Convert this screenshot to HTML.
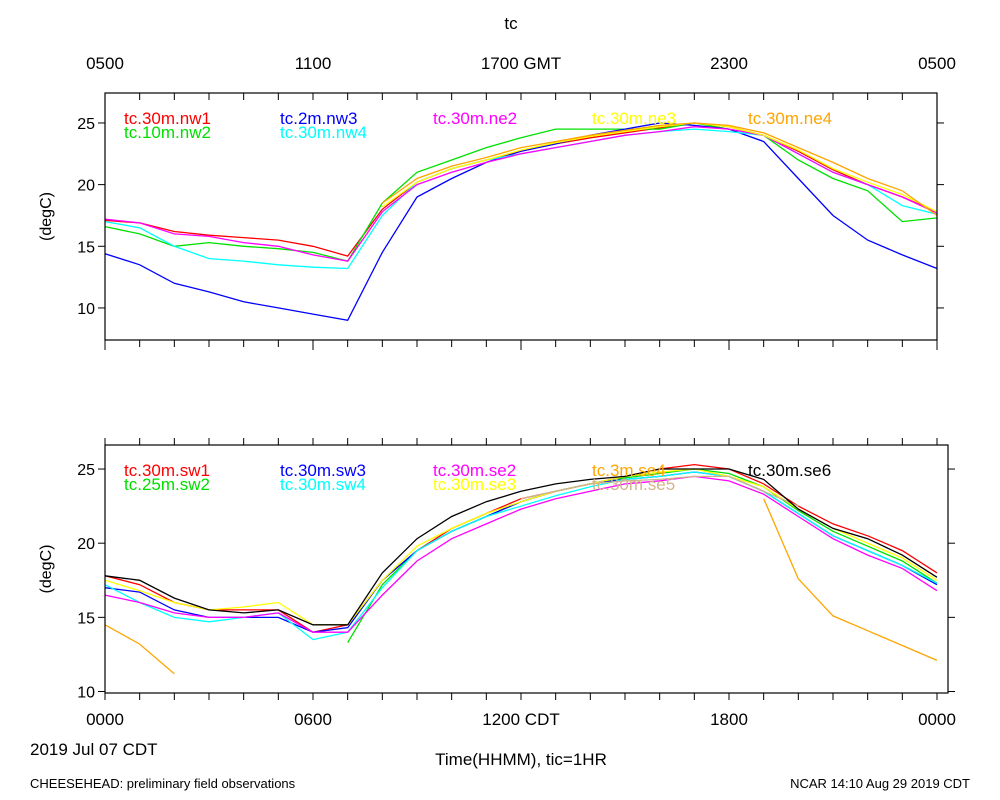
<!DOCTYPE html>
<html><head><meta charset="utf-8"><style>
body{margin:0;background:#fff;}
svg{display:block;font-family:"Liberation Sans",sans-serif;}
</style></head><body>
<svg id="chart" width="1000" height="800"></svg>
<script>
const hours=[0,1,2,3,4,5,6,7,8,9,10,11,12,13,14,15,16,17,18,19,20,21,22,23,24];
const nw1=[17.1,16.9,16.2,15.9,15.7,15.5,15,14.2,18,20.2,21.3,22,22.7,23.3,23.8,24.2,24.6,25,24.7,24,22.7,21.2,20,19,17.8];
const nw2=[16.6,16,15,15.3,15,14.8,14.5,13.8,18.5,21,22,23,23.8,24.5,24.5,24.5,24.5,25,24.5,24,22,20.5,19.5,17,17.3];
const nw3=[14.4,13.5,12,11.3,10.5,10,9.5,9,14.5,19,20.5,21.8,22.7,23.3,24,24.5,25,24.8,24.5,23.5,20.5,17.5,15.5,14.3,13.2];
const nw4=[17,16.5,15,14,13.8,13.5,13.3,13.2,17.5,20.2,21.3,22,22.5,23,23.5,24,24.3,24.5,24.3,24,22.5,21,20,18.3,17.6];
const ne2=[17.2,16.9,16,15.8,15.3,15,14.3,13.8,17.8,20,21,21.8,22.5,23,23.5,24,24.3,24.7,24.5,24,22.5,21,20,19,17.7];
const ne3=[null,null,null,null,null,null,null,null,18.2,20.2,21.3,22,22.8,23.4,23.9,24.3,24.7,25,24.7,24,22.8,21.3,20.2,19.2,17.8];
const ne4=[null,null,null,null,null,null,null,null,18.5,20.5,21.5,22.2,23,23.5,24,24.4,24.8,25,24.8,24.2,23,21.8,20.5,19.5,17.5];
const sw1=[17.8,17.2,16,15.5,15.5,15.5,14,14.5,17.5,19.5,21,22,23,23.5,24,24.5,25,25.3,25,24,22.5,21.3,20.5,19.5,18];
const sw2=[null,null,null,null,null,null,null,13.3,17.2,19.5,20.8,21.8,22.8,23.5,24,24.4,24.7,25,24.7,23.8,22.2,20.8,19.8,18.8,17.3];
const sw3=[17,16.7,15.5,15,15,15,14,14.3,17.5,19.5,20.8,21.8,22.8,23.5,24,24.3,24.5,24.8,24.5,23.5,22,20.5,19.5,18.5,17.2];
const sw4=[17.2,16,15,14.7,15,15.3,13.5,14,17,19.5,20.8,21.8,22.5,23.2,23.8,24.3,24.5,24.8,24.5,23.5,22,20.5,19.5,18.5,17.3];
const se2=[16.5,16,15.3,15,15,15.3,14,14,16.5,18.8,20.3,21.3,22.3,23,23.5,24,24.2,24.5,24.2,23.3,21.8,20.3,19.2,18.3,16.8];
const se3=[17.5,16.8,16,15.5,15.7,16,14.5,14.5,17.5,19.8,21,22,22.8,23.5,24,24.5,24.8,25,24.5,23.8,22.3,21,20,19,17.5];
const se4=[14.5,13.2,11.2,null,null,null,null,null,null,null,null,null,null,null,null,null,null,null,null,23,17.6,15.1,14.1,13.1,12.1];
const se5=[null,null,null,null,null,null,null,null,null,null,null,null,23,23.5,24,24.2,24.3,24.5,24.5,23.5,22.5,null,null,null,null];
const se6=[17.8,17.5,16.3,15.5,15.3,15.5,14.5,14.5,18,20.3,21.8,22.8,23.5,24,24.3,24.5,25,25,25,24.3,22.3,21,20.3,19.2,17.7];
const yTicks=[10,15,20,25];
const topLabels=["0500","1100","1700 GMT","2300","0500"];
const botLabels=["0000","0600","1200 CDT","1800","0000"];

const svg=document.getElementById('chart');
const NS='http://www.w3.org/2000/svg';
function mk(tag,attrs,parent){const e=document.createElementNS(NS,tag);for(const k in attrs)e.setAttribute(k,attrs[k]);(parent||svg).appendChild(e);return e;}
function txt(x,y,s,size,anchor,fill,parent){const t=mk('text',{x:x,y:y,'font-size':size,'text-anchor':anchor||'start',fill:fill||'#000'},parent);t.textContent=s;return t;}

const panels=[
 {x0:105,x1:937,fx1:937,y0:93,y1:340,vmin:7.4,vmax:27.43,name:'top-panel',
  series:[['tc.30m.nw1','red',nw1],['tc.10m.nw2','#00e000',nw2],['tc.2m.nw3','blue',nw3],['tc.30m.nw4','cyan',nw4],['tc.30m.ne2','magenta',ne2],['tc.30m.ne3','yellow',ne3],['tc.30m.ne4','orange',ne4]],
  legend:[[124,0],[124,1],[280,0],[280,1],[433,0],[592,0],[748,0]]},
 {x0:105,x1:937,fx1:948,y0:445,y1:693,vmin:9.9,vmax:26.62,name:'bottom-panel',
  series:[['tc.30m.sw1','red',sw1],['tc.25m.sw2','#00e000',sw2],['tc.30m.sw3','blue',sw3],['tc.30m.sw4','cyan',sw4],['tc.30m.se2','magenta',se2],['tc.30m.se3','yellow',se3],['tc.3m.se4','orange',se4],['tc.30m.se5','tan',se5],['tc.30m.se6','black',se6]],
  legend:[[124,0],[124,1],[280,0],[280,1],[433,0],[433,1],[592,0],[592,1],[748,0]]}
];
panels.forEach((p,pi)=>{
 const g=mk('g',{});
 
 
 const xs=h=>p.x0+(p.x1-p.x0)*h/24;
 const ys=v=>p.y1-(p.y1-p.y0)*(v-p.vmin)/(p.vmax-p.vmin);
 // series
 p.series.forEach((s,si)=>{
  let d='',pen=false;
  s[2].forEach((v,i)=>{if(v==null){pen=false;return;}d+=(pen?'L':'M')+xs(hours[i]).toFixed(1)+','+ys(v).toFixed(1);pen=true;});
  const path=mk('path',{d:d,fill:'none',stroke:s[1],'stroke-width':1.3},g);
  
  
 });
 // frame
 const fr=mk('rect',{x:p.x0,y:p.y0,width:p.fx1-p.x0,height:p.y1-p.y0,fill:'none',stroke:'#000','stroke-width':1.2},g);
 
 
 // x ticks
 for(let h=0;h<=24;h++){
  const x=xs(h),maj=h%6==0;
  mk('line',{x1:x,x2:x,y1:p.y0,y2:p.y0-(pi==1?7:0)+(pi==0?7:0),stroke:'#000'},g);
  mk('line',{x1:x,x2:x,y1:p.y1,y2:p.y1+(pi==0&&maj?10:7),stroke:'#000'},g);
 }
 // y ticks
 yTicks.forEach(v=>{
  const y=ys(v);
  mk('line',{x1:p.x0,x2:p.x0-7,y1:y,y2:y,stroke:'#000'},g);
  mk('line',{x1:p.fx1,x2:p.fx1+7,y1:y,y2:y,stroke:'#000'},g);
  const t=txt(p.x0-10,y+6,String(v),16,'end','#000',g);
  
  
 });
 const yt=mk('text',{x:0,y:0,'font-size':16,'text-anchor':'middle',transform:`translate(51,${(p.y0+p.y1)/2}) rotate(-90)`},g);
 yt.textContent='(degC)';
 
 
 // legend
 p.series.forEach((s,si)=>{
  const [lx,row]=p.legend[si];
  const t=txt(lx,p.y0+31+row*14,s[0],17,'start',s[1],g);
  
  
 });
});
[0,6,12,18,24].forEach((h,i)=>{
 const x=105+832*h/24;
 const t1=txt(x,69,topLabels[i],17,'middle');
 
 
 const t2=txt(x,725,botLabels[i],17,'middle');
 
 
});
let t;
t=txt(511,29,'tc',17,'middle');
t=txt(30,755,'2019 Jul 07 CDT',17,'start');
t=txt(521,765,'Time(HHMM), tic=1HR',17,'middle');
t=txt(30,788,'CHEESEHEAD: preliminary field observations',13,'start');
t=txt(970,788,'NCAR 14:10 Aug 29 2019 CDT',13,'end');
</script>
</body></html>
